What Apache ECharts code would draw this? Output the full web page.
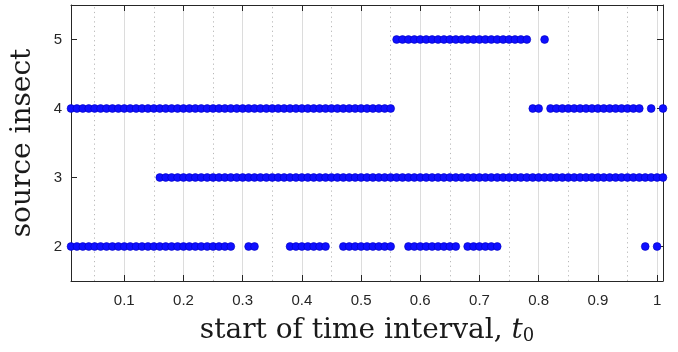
<!DOCTYPE html>
<html>
<head>
<meta charset="utf-8">
<script src="https://cdn.jsdelivr.net/npm/echarts@6/dist/echarts.min.js"></script>
<style>html,body{margin:0;padding:0;background:#fff}#c{width:678px;height:352px}</style>
</head>
<body>
<div id="c"></div>
<script>
// ---- data ----
const xTicks = [0.1, 0.2, 0.3, 0.4, 0.5, 0.6, 0.7, 0.8, 0.9, 1.0];
const xMinorTicks = [0.05, 0.15, 0.25, 0.35, 0.45, 0.55, 0.65, 0.75, 0.85, 0.95];
const yTicks = [2, 3, 4, 5];
const insect2 = [0.01,0.02,0.03,0.04,0.05,0.06,0.07,0.08,0.09,0.10,0.11,0.12,0.13,0.14,0.15,0.16,0.17,0.18,0.19,0.20,0.21,0.22,0.23,0.24,0.25,0.26,0.27,0.28,
  0.31,0.32,
  0.38,0.39,0.40,0.41,0.42,0.43,0.44,
  0.47,0.48,0.49,0.50,0.51,0.52,0.53,0.54,0.55,
  0.58,0.59,0.60,0.61,0.62,0.63,0.64,0.65,0.66,
  0.68,0.69,0.70,0.71,0.72,0.73,
  0.98,1.00];
const insect3 = [0.16,0.17,0.18,0.19,0.20,0.21,0.22,0.23,0.24,0.25,0.26,0.27,0.28,0.29,0.30,
  0.31,0.32,0.33,0.34,0.35,0.36,0.37,0.38,0.39,0.40,0.41,0.42,0.43,0.44,0.45,0.46,0.47,0.48,0.49,0.50,
  0.51,0.52,0.53,0.54,0.55,0.56,0.57,0.58,0.59,0.60,0.61,0.62,0.63,0.64,0.65,0.66,0.67,0.68,0.69,0.70,
  0.71,0.72,0.73,0.74,0.75,0.76,0.77,0.78,0.79,0.80,0.81,0.82,0.83,0.84,0.85,0.86,0.87,0.88,0.89,0.90,
  0.91,0.92,0.93,0.94,0.95,0.96,0.97,0.98,0.99,1.00,1.01];
const insect4 = [0.01,0.02,0.03,0.04,0.05,0.06,0.07,0.08,0.09,0.10,0.11,0.12,0.13,0.14,0.15,0.16,0.17,0.18,0.19,0.20,
  0.21,0.22,0.23,0.24,0.25,0.26,0.27,0.28,0.29,0.30,0.31,0.32,0.33,0.34,0.35,0.36,0.37,0.38,0.39,0.40,
  0.41,0.42,0.43,0.44,0.45,0.46,0.47,0.48,0.49,0.50,0.51,0.52,0.53,0.54,0.55,
  0.79,0.80,
  0.82,0.83,0.84,0.85,0.86,0.87,0.88,0.89,0.90,0.91,0.92,0.93,0.94,0.95,0.96,0.97,
  0.99,1.01];
const insect5 = [0.56,0.57,0.58,0.59,0.60,0.61,0.62,0.63,0.64,0.65,0.66,0.67,0.68,0.69,0.70,
  0.71,0.72,0.73,0.74,0.75,0.76,0.77,0.78,
  0.81];
const rows = [[2, insect2], [3, insect3], [4, insect4], [5, insect5]];

const axisCol = '#262626';
const serif = 'DejaVu Serif';
const chart = echarts.init(document.getElementById('c'), null, {renderer: 'canvas'});

const mkSeries = rows.map(([y, arr]) => ({
  type: 'scatter',
  xAxisIndex: 0, yAxisIndex: 0,
  data: arr.map(t => [t, y]),
  symbol: 'circle',
  symbolSize: 7.8,
  clip: false,
  z: 3,
  itemStyle: {color: '#0f0fff', borderColor: '#0000c0', borderWidth: 0.6, opacity: 1},
  emphasis: {disabled: true},
  animation: false
}));

mkSeries.push({
  type: 'scatter', xAxisIndex: 0, yAxisIndex: 0, data: [], z: 1,
  markLine: {
    silent: true, symbol: 'none', z: 1, animation: false,
    label: {show: false},
    lineStyle: {color: '#b8b8b8', type: [1.2, 3.5], width: 1},
    data: xMinorTicks.map(v => ({xAxis: v}))
  }
});

chart.setOption({
  animation: false,
  grid: {left: 71, right: 15, top: 5, bottom: 71, containLabel: false},
  xAxis: [{
    type: 'value', min: 0.01, max: 1.01, position: 'bottom',
    axisLine: {show: true, onZero: false, lineStyle: {color: axisCol, width: 1}},
    axisTick: {show: true, inside: true, length: 6, customValues: xTicks, lineStyle: {color: axisCol}},
    axisLabel: {customValues: xTicks, formatter: v => String(Math.round(v*10)/10), color: axisCol,
      fontFamily: 'Liberation Sans', fontSize: 15, margin: 12},
    splitLine: {show: true, lineStyle: {color: '#dcdcdc', width: 1}},
    name: '{a|start of time interval, }{i|t}{s|0}',
    nameLocation: 'middle', nameGap: 35,
    nameTextStyle: {
      rich: {
        a: {fontFamily: serif, fontSize: 28, color: '#1a1a1a'},
        i: {fontFamily: serif, fontStyle: 'italic', fontSize: 28, color: '#1a1a1a'},
        s: {fontFamily: serif, fontSize: 18, color: '#1a1a1a', verticalAlign: 'bottom', padding: [11, 0, 0, 0]}
      }
    }
  }, {
    type: 'value', min: 0.01, max: 1.01, position: 'top',
    axisLine: {show: true, onZero: false, lineStyle: {color: axisCol, width: 1}},
    axisTick: {show: true, inside: true, length: 6, customValues: xTicks, lineStyle: {color: axisCol}},
    axisLabel: {show: false, customValues: xTicks},
    splitLine: {show: false}
  }],
  yAxis: [{
    type: 'value', min: 1.5, max: 5.5, position: 'left',
    axisLine: {show: true, onZero: false, lineStyle: {color: axisCol, width: 1}},
    axisTick: {show: true, inside: true, length: 6, customValues: yTicks, lineStyle: {color: axisCol}},
    axisLabel: {customValues: yTicks, color: axisCol, fontFamily: 'Liberation Sans', fontSize: 15, margin: 9},
    splitLine: {show: false},
    name: 'source insect', nameLocation: 'middle', nameRotate: 90, nameGap: 34,
    nameTextStyle: {fontFamily: serif, fontSize: 28, color: '#1a1a1a'}
  }, {
    type: 'value', min: 1.5, max: 5.5, position: 'right',
    axisLine: {show: true, onZero: false, lineStyle: {color: axisCol, width: 1}},
    axisTick: {show: true, inside: true, length: 6, customValues: yTicks, lineStyle: {color: axisCol}},
    axisLabel: {show: false, customValues: yTicks},
    splitLine: {show: false}
  }],
  series: mkSeries
});
</script>
</body>
</html>
